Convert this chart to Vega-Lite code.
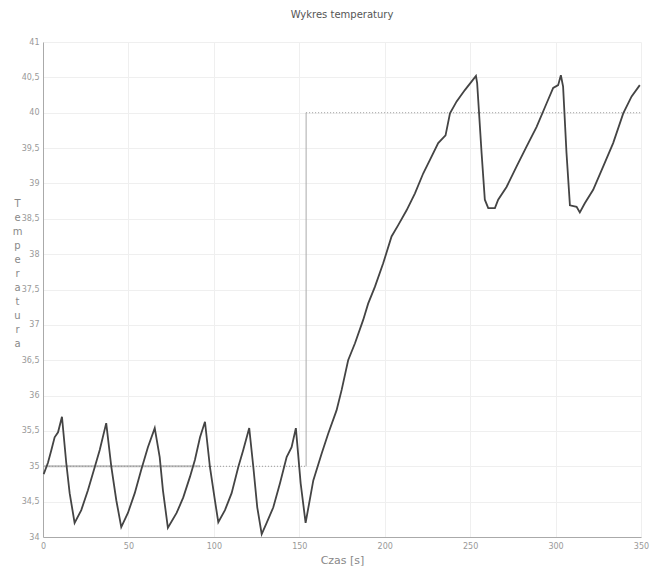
{
  "$schema": "https://vega.github.io/schema/vega-lite/v6.json",
  "width": 598,
  "height": 495,
  "autosize": {"type": "none"},
  "padding": {"left": 43, "top": 42, "right": 24, "bottom": 31},
  "background": "#ffffff",
  "title": {
    "text": "Wykres temperatury",
    "fontSize": 10,
    "font": "DejaVu Sans",
    "fontWeight": "normal",
    "color": "#555555",
    "offset": 18,
    "anchor": "middle"
  },
  "config": {
    "view": {"stroke": null},
    "axis": {
      "labelFont": "DejaVu Sans",
      "labelFontSize": 8,
      "labelColor": "#999999",
      "domainColor": "#aaaaaa",
      "gridColor": "#efefef",
      "ticks": false,
      "labelFlush": false,
      "titleFont": "DejaVu Sans",
      "titleFontWeight": "normal",
      "titleColor": "#888888"
    }
  },
  "datasets": {
    "temp": [
      {"t": 0.4, "T": 34.89}, {"t": 2.9, "T": 35.05}, {"t": 4.9, "T": 35.23}, {"t": 6.8, "T": 35.41}, {"t": 8.8, "T": 35.48}, {"t": 11.1, "T": 35.70},
      {"t": 13.6, "T": 35.05}, {"t": 15.6, "T": 34.62}, {"t": 18.5, "T": 34.20}, {"t": 22.4, "T": 34.38}, {"t": 26.3, "T": 34.66}, {"t": 30.3, "T": 34.99},
      {"t": 33.2, "T": 35.23}, {"t": 37.0, "T": 35.61}, {"t": 40.0, "T": 34.99}, {"t": 42.9, "T": 34.52}, {"t": 45.8, "T": 34.14}, {"t": 49.7, "T": 34.34},
      {"t": 53.7, "T": 34.62}, {"t": 57.5, "T": 34.95}, {"t": 61.4, "T": 35.27}, {"t": 65.4, "T": 35.54}, {"t": 68.3, "T": 35.13}, {"t": 70.2, "T": 34.66},
      {"t": 73.1, "T": 34.13}, {"t": 78.2, "T": 34.34}, {"t": 82.1, "T": 34.56}, {"t": 86.0, "T": 34.85}, {"t": 88.9, "T": 35.09}, {"t": 91.9, "T": 35.41},
      {"t": 94.8, "T": 35.63}, {"t": 97.7, "T": 34.99}, {"t": 100.6, "T": 34.52}, {"t": 102.6, "T": 34.21}, {"t": 106.5, "T": 34.38}, {"t": 110.4, "T": 34.62},
      {"t": 114.3, "T": 34.99}, {"t": 117.2, "T": 35.23}, {"t": 120.7, "T": 35.54}, {"t": 123.1, "T": 34.99}, {"t": 125.4, "T": 34.42}, {"t": 128.0, "T": 34.04},
      {"t": 130.9, "T": 34.20}, {"t": 134.8, "T": 34.42}, {"t": 138.7, "T": 34.76}, {"t": 142.6, "T": 35.13}, {"t": 145.5, "T": 35.27}, {"t": 148.0, "T": 35.54},
      {"t": 150.8, "T": 34.76}, {"t": 153.7, "T": 34.20}, {"t": 158.2, "T": 34.80}, {"t": 163.1, "T": 35.18}, {"t": 166.9, "T": 35.46}, {"t": 171.8, "T": 35.79},
      {"t": 174.8, "T": 36.08}, {"t": 178.6, "T": 36.50}, {"t": 182.6, "T": 36.74}, {"t": 187.4, "T": 37.07}, {"t": 190.3, "T": 37.30}, {"t": 194.3, "T": 37.54},
      {"t": 199.1, "T": 37.87}, {"t": 204.0, "T": 38.25}, {"t": 207.9, "T": 38.41}, {"t": 212.8, "T": 38.62}, {"t": 217.7, "T": 38.86}, {"t": 222.5, "T": 39.14},
      {"t": 226.4, "T": 39.33}, {"t": 231.3, "T": 39.57}, {"t": 235.6, "T": 39.68}, {"t": 238.2, "T": 39.99}, {"t": 242.1, "T": 40.16}, {"t": 246.9, "T": 40.32},
      {"t": 250.8, "T": 40.44}, {"t": 253.4, "T": 40.52}, {"t": 254.1, "T": 40.42}, {"t": 256.7, "T": 39.43}, {"t": 258.6, "T": 38.77}, {"t": 260.6, "T": 38.65},
      {"t": 264.5, "T": 38.65}, {"t": 266.4, "T": 38.77}, {"t": 271.3, "T": 38.95}, {"t": 277.2, "T": 39.24}, {"t": 283.0, "T": 39.52}, {"t": 288.9, "T": 39.80},
      {"t": 294.7, "T": 40.13}, {"t": 298.6, "T": 40.35}, {"t": 301.5, "T": 40.39}, {"t": 303.1, "T": 40.53}, {"t": 304.4, "T": 40.37}, {"t": 306.4, "T": 39.43},
      {"t": 308.4, "T": 38.69}, {"t": 312.3, "T": 38.67}, {"t": 314.2, "T": 38.59}, {"t": 317.1, "T": 38.72}, {"t": 322.0, "T": 38.91}, {"t": 327.9, "T": 39.24},
      {"t": 333.7, "T": 39.57}, {"t": 339.6, "T": 39.99}, {"t": 344.5, "T": 40.23}, {"t": 349.3, "T": 40.39}
    ],
    "zadana": [
      {"t": 0, "T": 35, "part": "h1"}, {"t": 154, "T": 35, "part": "h1"},
      {"t": 154, "T": 40, "part": "h2"}, {"t": 350, "T": 40, "part": "h2"},
      {"t": 154, "T": 35, "part": "v"}, {"t": 154, "T": 40, "part": "v"},
      {"t": 0, "T": 35, "part": "s"}, {"t": 92, "T": 35, "part": "s"}
    ]
  },
  "encoding": {
    "x": {
      "field": "t", "type": "quantitative",
      "scale": {"domain": [0, 350], "nice": false, "zero": false},
      "axis": {
        "values": [0, 50, 100, 150, 200, 250, 300, 350],
        "title": "Czas [s]",
        "titleFontSize": 11,
        "titlePadding": 4,
        "labelPadding": 5,
        "grid": true
      }
    },
    "y": {
      "field": "T", "type": "quantitative",
      "scale": {"domain": [34, 41], "nice": false, "zero": false},
      "axis": {
        "values": [34, 34.5, 35, 35.5, 36, 36.5, 37, 37.5, 38, 38.5, 39, 39.5, 40, 40.5, 41],
        "labelExpr": "replace(format(datum.value, ''), '.', ',')",
        "labelPadding": 4,
        "grid": true,
        "title": ["T", "e", "m", "p", "e", "r", "a", "t", "u", "r", "a"],
        "titleAngle": 0,
        "titleFontSize": 10,
        "titleLineHeight": 14,
        "titleAlign": "center",
        "titleBaseline": "top",
        "titleX": -26,
        "titleY": 156
      }
    }
  },
  "layer": [
    {
      "data": {"name": "zadana"},
      "transform": [{"filter": "datum.part === 's'"}],
      "mark": {"type": "line", "color": "#bbbbbb", "strokeWidth": 2},
      "encoding": {"order": {"field": "t"}}
    },
    {
      "data": {"name": "zadana"},
      "transform": [{"filter": "datum.part === 'h1' || datum.part === 'h2'"}],
      "mark": {"type": "line", "color": "#999999", "strokeWidth": 1, "strokeDash": [1, 2]},
      "encoding": {"detail": {"field": "part"}, "order": {"field": "t"}}
    },
    {
      "data": {"name": "zadana"},
      "transform": [{"filter": "datum.part === 'v'"}],
      "mark": {"type": "line", "color": "#aaaaaa", "strokeWidth": 1},
      "encoding": {"order": {"field": "T"}}
    },
    {
      "data": {"name": "temp"},
      "mark": {"type": "line", "color": "#444444", "strokeWidth": 1.8},
      "encoding": {"order": {"field": "t"}}
    }
  ]
}
